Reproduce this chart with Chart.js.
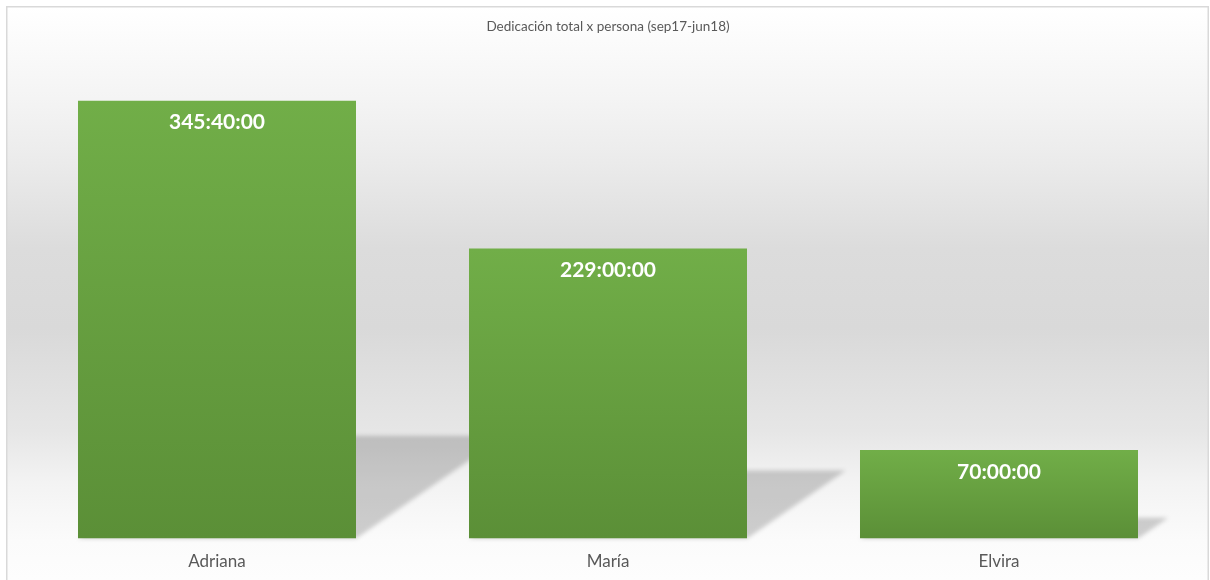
<!DOCTYPE html>
<html>
<head>
<meta charset="utf-8">
<script src="https://cdn.jsdelivr.net/npm/chart.js@4"></script>
<style>
  body { margin: 0; background: #fff; overflow: hidden; }
  canvas { display: block; }
</style>
</head>
<body>
<canvas id="graficoDedicacion" width="1210" height="580"></canvas>
<script>
const categorias = ['Adriana', 'María', 'Elvira'];
const dedicacion = ['345:40:00', '229:00:00', '70:00:00'];
const titulo = 'Dedicación total x persona (sep17-jun18)';

// hh:mm:ss -> horas
const horas = dedicacion.map(t => {
    const [h, m, s] = t.split(':').map(Number);
    return h + m / 60 + s / 3600;
});

const fondo = {
    id: 'fondo',
    beforeDraw(chart) {
        const ctx = chart.ctx;
        ctx.save();
        ctx.fillStyle = '#ffffff';
        ctx.fillRect(0, 0, chart.width, chart.height);
        const g = ctx.createLinearGradient(0, 7, 0, 580);
        g.addColorStop(0, '#ffffff');
        g.addColorStop(0.16, '#f4f4f4');
        g.addColorStop(0.27, '#ebebeb');
        g.addColorStop(0.42, '#dcdcdc');
        g.addColorStop(0.56, '#d9d9d9');
        g.addColorStop(0.74, '#e6e6e6');
        g.addColorStop(0.83, '#f3f3f3');
        g.addColorStop(0.93, '#fbfbfb');
        g.addColorStop(1, '#fdfdfd');
        ctx.fillStyle = g;
        ctx.fillRect(7, 7, 1201, 580);
        ctx.strokeStyle = '#d9d9d9';
        ctx.lineWidth = 1.5;
        ctx.strokeRect(6.75, 6.75, 1201.5, 590);
        ctx.restore();
    }
};

const sombras = {
    id: 'sombras',
    beforeDatasetsDraw(chart) {
        const ctx = chart.ctx;
        ctx.save();
        ctx.filter = 'blur(2px)';
        ctx.fillStyle = 'rgba(0, 0, 0, 0.18)';
        chart.getDatasetMeta(0).data.forEach(bar => {
            const h = bar.base - bar.y;
            const sh = h * 0.235;
            const sk = h * 0.34;
            const l = bar.x - bar.width / 2;
            const r = bar.x + bar.width / 2;
            ctx.beginPath();
            ctx.moveTo(l, bar.base);
            ctx.lineTo(r, bar.base);
            ctx.lineTo(r + sk, bar.base - sh);
            ctx.lineTo(l + sk, bar.base - sh);
            ctx.closePath();
            ctx.fill();
        });
        ctx.restore();
    }
};

const etiquetas = {
    id: 'etiquetas',
    afterDatasetsDraw(chart) {
        const ctx = chart.ctx;
        ctx.save();
        ctx.fillStyle = '#ffffff';
        ctx.font = 'bold 21px Lato';
        ctx.textAlign = 'center';
        ctx.textBaseline = 'middle';
        chart.getDatasetMeta(0).data.forEach((bar, i) => {
            ctx.fillText(dedicacion[i], bar.x, bar.y + 22);
        });
        ctx.restore();
    }
};

const ctx = document.getElementById('graficoDedicacion').getContext('2d');
new Chart(ctx, {
    type: 'bar',
    data: {
        labels: categorias,
        datasets: [{
            label: 'Dedicación',
            data: horas,
            backgroundColor: (c) => {
                const chart = c.chart;
                const area = chart.chartArea;
                if (!area || c.parsed == null) return '#6aa443';
                const top = chart.scales.y.getPixelForValue(c.parsed.y);
                const bottom = chart.scales.y.getPixelForValue(0);
                const g = chart.ctx.createLinearGradient(0, top, 0, bottom);
                g.addColorStop(0, '#71ae48');
                g.addColorStop(1, '#5b8f37');
                return g;
            },
            borderWidth: 0,
            categoryPercentage: 1,
            barPercentage: 0.711
        }]
    },
    options: {
        responsive: false,
        animation: false,
        layout: { padding: { left: 21.5, right: 15.5, top: 0, bottom: -5 } },
        plugins: {
            legend: { display: false },
            tooltip: { enabled: false },
            title: {
                display: true,
                text: titulo,
                color: '#595959',
                font: { family: 'Lato', size: 13.5, weight: 'normal' },
                padding: { top: 19, bottom: 60 }
            }
        },
        scales: {
            x: {
                grid: { display: false, drawTicks: false },
                border: { display: false },
                ticks: {
                    color: '#595959',
                    font: { family: 'Lato', size: 17 },
                    padding: 13
                }
            },
            y: {
                display: false,
                min: 0,
                max: 350
            }
        }
    },
    plugins: [fondo, sombras, etiquetas]
});
</script>
</body>
</html>
